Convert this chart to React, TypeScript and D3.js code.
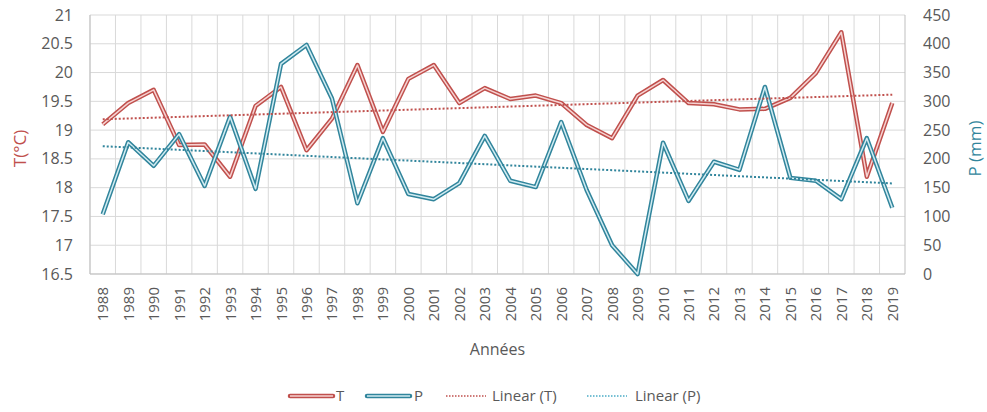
import React from "react";
import * as d3 from "d3";

const years = d3.range(1988, 2020).map(String);
const tempValues = [19.1, 19.47, 19.7, 18.74, 18.75, 18.19, 19.42, 19.75, 18.65, 19.2, 20.13, 18.97, 19.89, 20.13, 19.47, 19.73, 19.54, 19.6, 19.47, 19.09, 18.86, 19.6, 19.87, 19.47, 19.45, 19.36, 19.37, 19.56, 19.99, 20.7, 18.19, 19.47];
const precipValues = [104, 229, 188, 243, 153, 273, 148, 365, 398, 305, 123, 236, 139, 130, 158, 240, 162, 151, 264, 146, 50, 0, 228, 127, 195, 181, 325, 167, 162, 130, 236, 115];
const leftTicks = [16.5, 17, 17.5, 18, 18.5, 19, 19.5, 20, 20.5, 21];
const rightTicks = [0, 50, 100, 150, 200, 250, 300, 350, 400, 450];

const RED = "#C0504D";
const RED_IN = "#F6D3D2";
const TEAL = "#31859C";
const TEAL_IN = "#D2ECF2";
const TEAL_DOT = "#4BACC6";
const GRID = "#D9D9D9";
const TXT = "#595959";
const FONT = "'Open Sans', 'Noto Sans', sans-serif";

function regression(vals: number[]) {
  const n = vals.length;
  const xs = vals.map((_, i) => i);
  const mx = d3.mean(xs)!;
  const my = d3.mean(vals)!;
  let num = 0, den = 0;
  xs.forEach((x, i) => { num += (x - mx) * (vals[i] - my); den += (x - mx) ** 2; });
  const b = num / den;
  const a = my - b * mx;
  return [a, a + b * (n - 1)];
}

export default function App() {
  const W = 987, H = 412;
  const left = 90, right = 905, top = 15, bottom = 274;
  const x = d3.scaleBand().domain(years).range([left, right]);
  const yL = d3.scaleLinear().domain([16.5, 21]).range([bottom, top]);
  const yR = d3.scaleLinear().domain([0, 450]).range([bottom, top]);
  const cx = (i: number) => x(years[i])! + x.bandwidth() / 2;
  const lineT = d3.line<number>().x((_, i) => cx(i)).y((d) => yL(d));
  const lineP = d3.line<number>().x((_, i) => cx(i)).y((d) => yR(d));
  const [t0, t1] = regression(tempValues);
  const [p0, p1] = regression(precipValues);
  const last = years.length - 1;

  return (
    <svg width={W} height={H} style={{ position: "absolute", left: 0, top: 0, background: "#fff" }} fontFamily={FONT}>
      <rect width={W} height={H} fill="#fff" />
      {leftTicks.map((t) => (
        <line key={"h" + t} x1={left} x2={right} y1={yL(t)} y2={yL(t)} stroke={GRID} strokeWidth={1} />
      ))}
      {years.map((yr) => (
        <line key={"v" + yr} x1={x(yr)!} x2={x(yr)!} y1={top} y2={bottom} stroke={GRID} strokeWidth={1} />
      ))}
      <line x1={left} x2={left} y1={top} y2={bottom} stroke="#BFBFBF" />
      <line x1={right} x2={right} y1={top} y2={bottom} stroke="#BFBFBF" />
      <line x1={left} x2={right} y1={bottom} y2={bottom} stroke="#BFBFBF" />

      {leftTicks.map((t) => (
        <text key={"l" + t} x={left - 17} y={yL(t)} dy="0.35em" textAnchor="end" fontSize={16} fill={TXT}>{t}</text>
      ))}
      {rightTicks.map((t) => (
        <text key={"r" + t} x={right + 18} y={yR(t)} dy="0.35em" textAnchor="start" fontSize={16} fill={TXT}>{t}</text>
      ))}
      {years.map((yr, i) => (
        <text key={"x" + yr} transform={`translate(${cx(i) + 5.5},${bottom + 13}) rotate(-90)`} textAnchor="end" fontSize={15} fill={TXT}>{yr}</text>
      ))}
      <text x={(left + right) / 2} y={355} textAnchor="middle" fontSize={16} fill={TXT}>Années</text>
      <text transform={`translate(26,${(top + bottom) / 2 + 4}) rotate(-90)`} textAnchor="middle" fontSize={17} fill={RED}>T(°C)</text>
      <text transform={`translate(981,${(top + bottom) / 2 + 4}) rotate(-90)`} textAnchor="middle" fontSize={17} fill={TEAL}>P (mm)</text>

      <path d={lineT(tempValues)!} fill="none" stroke={RED} strokeWidth={4.5} strokeLinejoin="round" />
      <path d={lineT(tempValues)!} fill="none" stroke={RED_IN} strokeWidth={1.5} strokeLinejoin="round" />
      <path d={lineP(precipValues)!} fill="none" stroke={TEAL} strokeWidth={4.5} strokeLinejoin="round" />
      <path d={lineP(precipValues)!} fill="none" stroke={TEAL_IN} strokeWidth={1.5} strokeLinejoin="round" />

      <line x1={cx(0)} x2={cx(last)} y1={yL(t0)} y2={yL(t1)} stroke={RED} strokeWidth={2} strokeDasharray="2,2" />
      <line x1={cx(0)} x2={cx(last)} y1={yR(p0)} y2={yR(p1)} stroke={TEAL} strokeWidth={2} strokeDasharray="2,2" />

      <g fontSize={15} fill={TXT}>
        <line x1={290} x2={333} y1={396} y2={396} stroke={RED} strokeWidth={4.5} strokeLinecap="round" />
        <line x1={290} x2={333} y1={396} y2={396} stroke={RED_IN} strokeWidth={1.5} />
        <text x={336} y={396} dy="0.35em">T</text>
        <line x1={367} x2={410} y1={396} y2={396} stroke={TEAL} strokeWidth={4.5} strokeLinecap="round" />
        <line x1={367} x2={410} y1={396} y2={396} stroke={TEAL_IN} strokeWidth={1.5} />
        <text x={414} y={396} dy="0.35em">P</text>
        <line x1={446} x2={486} y1={396} y2={396} stroke={RED} strokeWidth={1.5} strokeDasharray="1.5,1.5" />
        <text x={492} y={396} dy="0.35em">Linear (T)</text>
        <line x1={587} x2={627} y1={396} y2={396} stroke={TEAL_DOT} strokeWidth={1.5} strokeDasharray="1.5,1.5" />
        <text x={635} y={396} dy="0.35em">Linear (P)</text>
      </g>
    </svg>
  );
}
